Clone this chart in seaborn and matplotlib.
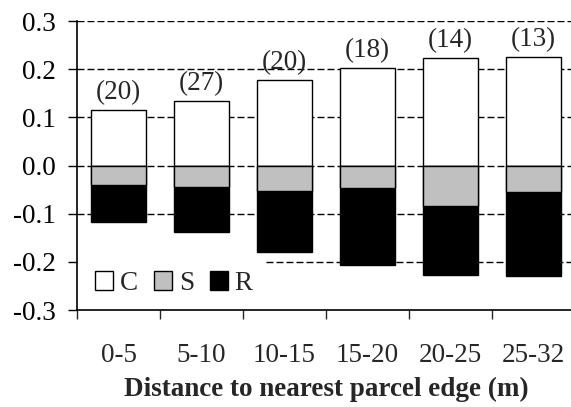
import numpy as np
import pandas as pd
import matplotlib
matplotlib.use('Agg')
import matplotlib.pyplot as plt
import seaborn as sns
from matplotlib.patches import Patch

# Data
categories = ['0-5', '5-10', '10-15', '15-20', '20-25', '25-32']
c_vals = [0.115, 0.134, 0.177, 0.203, 0.223, 0.225]
s_vals = [-0.040, -0.044, -0.052, -0.046, -0.083, -0.054]
r_vals = [-0.077, -0.094, -0.128, -0.160, -0.144, -0.175]
n_labels = ['(20)', '(27)', '(20)', '(18)', '(14)', '(13)']
y_ticks = [-0.3, -0.2, -0.1, 0.0, 0.1, 0.2, 0.3]

sns.set_style('white')
plt.rcParams['font.family'] = ['Liberation Serif', 'DejaVu Serif']
plt.rcParams['axes.unicode_minus'] = False
FS = 19.5

df = pd.DataFrame({'cat': categories, 'C': c_vals, 'S': s_vals,
                   'SR': np.array(s_vals) + np.array(r_vals)})

fig = plt.figure(figsize=(5.71, 4.07), dpi=100)
ax = fig.add_axes([0.135, 0.238, 0.872, 0.710])

# gridlines behind bars (the -0.2 one stops short of the legend)
dash = (0, (5, 2.2))
for y in [0.3, 0.2, 0.1, 0.0, -0.1]:
    ax.axhline(y, color='black', lw=1.0, ls=dash, zorder=0)
ax.axhline(-0.2, xmin=0.38, color='black', lw=1.0, ls=dash, zorder=0)

bar_kw = dict(width=0.67, edgecolor='black', linewidth=1.0, zorder=2)
sns.barplot(data=df, x='cat', y='C', color='white', saturation=1, ax=ax, **bar_kw)
sns.barplot(data=df, x='cat', y='SR', color='black', saturation=1, ax=ax, **bar_kw)
sns.barplot(data=df, x='cat', y='S', color='#c0c0c0', saturation=1, ax=ax, **bar_kw)

for i, (v, lab) in enumerate(zip(c_vals, n_labels)):
    ax.annotate(lab, (i, v), xytext=(0, 3.5), textcoords='offset points',
                ha='center', va='bottom', fontsize=FS)

ax.set_xlim(-0.5, 5.5)
ax.set_ylim(-0.3, 0.3)
ax.set_yticks(y_ticks)
ax.set_yticklabels([f'{t:.1f}' for t in y_ticks])
ax.tick_params(axis='y', which='major', direction='out', length=6.5, width=1,
               labelsize=FS, left=True, pad=9, colors='black')

# tick marks between categories, labels at centers
ax.set_xticks(np.arange(-0.5, 6.0, 1.0))
ax.set_xticklabels([])
ax.set_xticks(np.arange(len(categories)), minor=True)
ax.set_xticklabels(categories, minor=True)
ax.tick_params(axis='x', which='major', direction='out', length=6.5, width=1,
               bottom=True)
ax.tick_params(axis='x', which='minor', length=0, labelsize=FS, pad=24)

ax.set_xlabel('Distance to nearest parcel edge (m)', fontsize=FS,
              fontweight='bold', labelpad=6)
ax.set_ylabel('')

for side in ['top', 'right']:
    ax.spines[side].set_visible(False)
for side in ['left', 'bottom']:
    ax.spines[side].set_color('black')
    ax.spines[side].set_linewidth(1.2)
    ax.spines[side].set_zorder(3)

handles = [Patch(facecolor='white', edgecolor='black', label='C'),
           Patch(facecolor='#c0c0c0', edgecolor='black', label='S'),
           Patch(facecolor='black', edgecolor='black', label='R')]
ax.legend(handles=handles, loc='center left', ncol=3, fontsize=FS,
          frameon=False, handlelength=0.66, handleheight=0.66,
          handletextpad=0.25, columnspacing=0.6, borderaxespad=0,
          borderpad=0, bbox_to_anchor=(0.036, 0.092))

fig.savefig('out.png', dpi=100)
